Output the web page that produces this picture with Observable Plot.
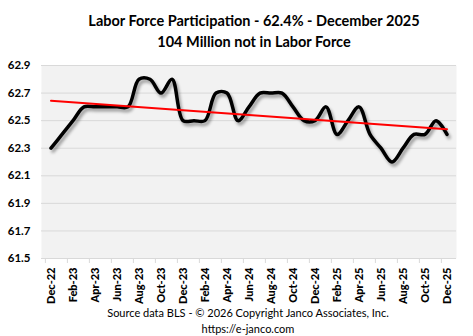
<!DOCTYPE html>
<html>
<head>
<meta charset="utf-8">
<script src="https://cdn.jsdelivr.net/npm/d3@7"></script>
<script src="https://cdn.jsdelivr.net/npm/@observablehq/plot@0.6"></script>
<style>
  html, body { margin: 0; padding: 0; background: #fff; }
  body { width: 473px; height: 336px; overflow: hidden; font-family: Lato, "Open Sans", sans-serif; }
  #title { height: 52px; box-sizing: border-box; padding-top: 10px; padding-left: 35px; text-align: center; font-weight: bold; font-size: 14.5px; line-height: 21px; color: #000; }
  #caption { box-sizing: border-box; padding-top: 1px; padding-left: 23px; text-align: center; font-size: 11px; line-height: 16px; color: #000; }
  #chart svg { display: block; }
</style>
</head>
<body>
<div id="title">Labor Force Participation - 62.4% - December 2025<br>104 Million not in Labor Force</div>
<div id="chart"></div>
<div id="caption">Source data BLS - © 2026 Copyright Janco Associates, Inc.<br>https://e-janco.com</div>
<script>
const months = [
  "Dec-22","Jan-23","Feb-23","Mar-23","Apr-23","May-23","Jun-23","Jul-23","Aug-23","Sep-23","Oct-23","Nov-23",
  "Dec-23","Jan-24","Feb-24","Mar-24","Apr-24","May-24","Jun-24","Jul-24","Aug-24","Sep-24","Oct-24","Nov-24",
  "Dec-24","Jan-25","Feb-25","Mar-25","Apr-25","May-25","Jun-25","Jul-25","Aug-25","Sep-25","Oct-25","Nov-25","Dec-25"
];
const participation = [
  62.3,62.4,62.5,62.6,62.6,62.6,62.6,62.6,62.8,62.8,62.7,62.8,
  62.5,62.5,62.5,62.7,62.7,62.5,62.6,62.7,62.7,62.7,62.6,62.5,
  62.5,62.6,62.4,62.5,62.6,62.4,62.3,62.2,62.3,62.4,62.4,62.5,62.4
];
const xTickLabels = months.filter((d, i) => i % 2 === 0);
const yTicks = [61.5, 61.7, 61.9, 62.1, 62.3, 62.5, 62.7, 62.9];

const data = months.map((m, i) => ({month: m, i, value: participation[i]}));

// least-squares trend line (Excel linear trendline)
const n = data.length;
const mx = d3.mean(data, d => d.i), my = d3.mean(data, d => d.value);
const slope = d3.sum(data, d => (d.i - mx) * (d.value - my)) / d3.sum(data, d => (d.i - mx) ** 2);
const trend = [data[0], data[n - 1]].map(d => ({month: d.month, value: my + slope * (d.i - mx)}));

const bw = 415 / months.length;

const chart = Plot.plot({
  width: 473,
  height: 252,
  marginTop: 13,
  marginBottom: 46,
  marginLeft: 41,
  marginRight: 17,
  style: {fontFamily: "Lato, 'Open Sans', sans-serif", background: "transparent", color: "#000"},
  x: {type: "band", domain: months, padding: 0, label: null},
  y: {domain: [61.5, 62.9], label: null},
  marks: [
    Plot.frame({fill: "#f2f2f2", stroke: null}),
    Plot.ruleY(yTicks, {stroke: "#d9d9d9", strokeWidth: 1}),
    Plot.axisY({ticks: yTicks, tickFormat: d3.format(".1f"), tickSize: 0, tickPadding: 11, fontWeight: "bold", fontSize: 11.5, label: null}),
    Plot.axisX({ticks: xTickLabels, tickSize: 5, text: null, dx: -bw / 2, stroke: "#d9d9d9", label: null}),
    Plot.axisX({ticks: xTickLabels, tickSize: 0, tickPadding: 9, tickRotate: -90, fontWeight: "900", fontSize: 11, label: null}),
    Plot.line(data, {x: "month", y: "value", curve: "catmull-rom", stroke: "#000", strokeWidth: 3.5,
      imageFilter: "drop-shadow(2px 3px 1.5px rgba(0,0,0,0.35))"}),
    Plot.line(trend, {x: "month", y: "value", stroke: "#ff0000", strokeWidth: 2})
  ]
});
document.getElementById("chart").appendChild(chart);
</script>
</body>
</html>
